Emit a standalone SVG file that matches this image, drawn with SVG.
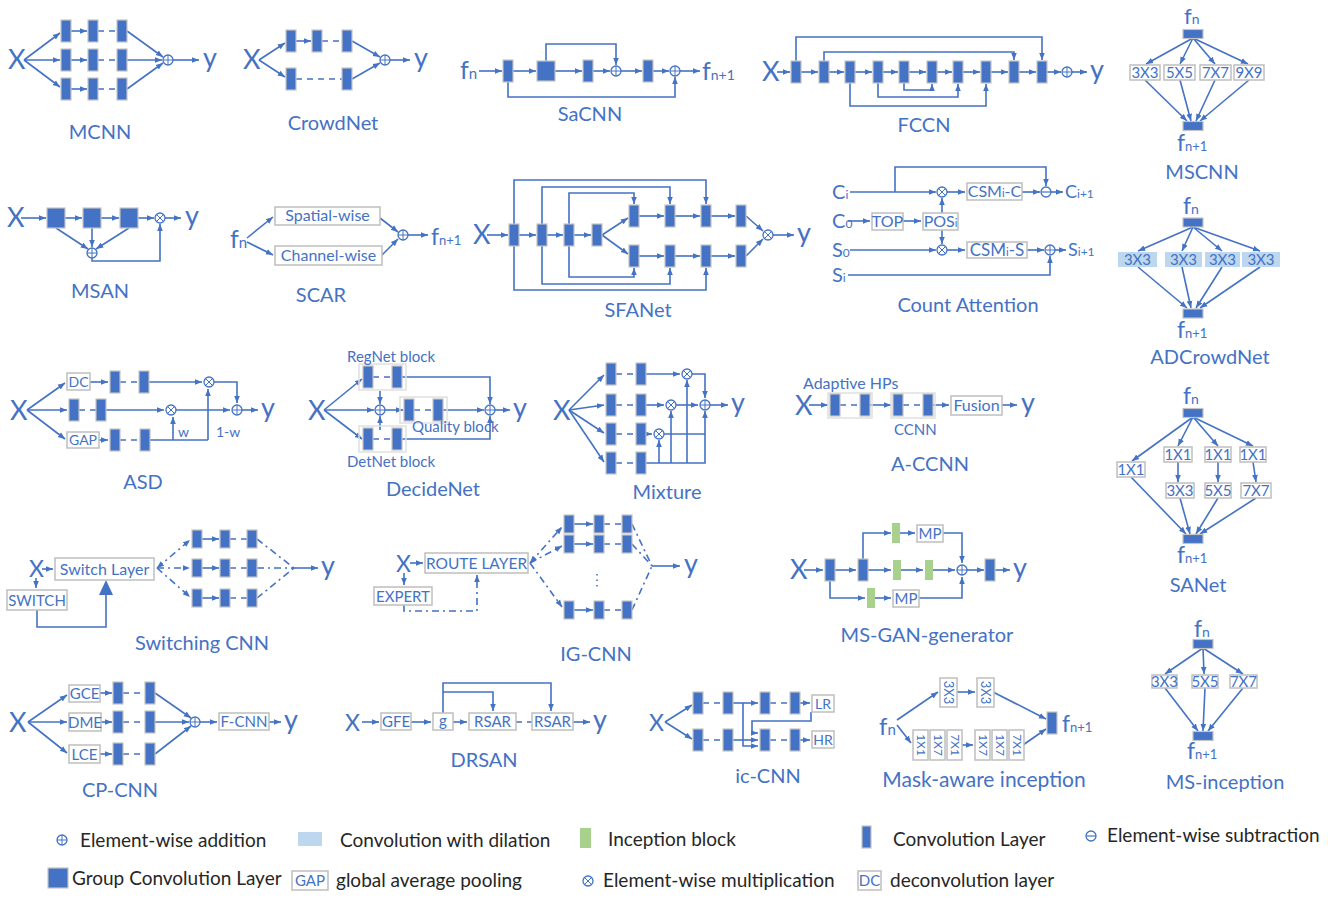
<svg xmlns="http://www.w3.org/2000/svg" width="1328" height="901" viewBox="0 0 1328 901">
<style>
.t{font-family:Lato,"Open Sans","Liberation Sans",sans-serif;fill:#4472C4}
.ttl{font-size:20px;text-anchor:middle}
.big{font-size:27px}
.md{font-size:23px}
.bt{font-size:15px;text-anchor:middle}
.st{font-size:14px}
.lg{font-family:Lato,"Open Sans","Liberation Sans",sans-serif;font-size:19px;fill:#262626}
.ln{fill:none;stroke:#4472C4;stroke-width:1.6}
.a{marker-end:url(#ah)}
.ab{marker-start:url(#ah)}
.ds{stroke-dasharray:6 5}
.dd{stroke-dasharray:7 4 2 4}
.bx{fill:#fff;stroke:#bfbfbf;stroke-width:1.5}
.fr{fill:none;stroke:#e0e0e0;stroke-width:1.5}
.lb{fill:#BDD7EE}
.gr{fill:#A9D18E}
.bl{fill:#4472C4}
</style>
<defs>
<marker id="ah" viewBox="0 0 10 10" refX="10" refY="5" markerWidth="4.5" markerHeight="4.5" orient="auto-start-reverse"><path d="M0,1L10,5L0,9z" fill="#4472C4"/></marker>
<rect id="cv" x="-5" y="-11" width="10" height="22" fill="#4472C4" stroke="#c4c4c4" stroke-width="1.2"/>
<rect id="cs" x="-5" y="-9" width="10" height="18" fill="#4472C4" stroke="#c4c4c4" stroke-width="1.2"/>
<rect id="gq" x="-9" y="-10" width="18" height="20" fill="#4472C4" stroke="#c4c4c4" stroke-width="1.2"/>
<rect id="bar" x="-10" y="-4.5" width="20" height="9" fill="#4472C4" stroke="#c4c4c4" stroke-width="1.2"/>
<rect id="gb" x="-4" y="-10" width="8" height="20" fill="#A9D18E"/>
<g id="add"><circle r="5" fill="#fff" stroke="#4472C4" stroke-width="1.3"/><path d="M-5,0H5M0,-5V5" stroke="#4472C4" stroke-width="1"/></g>
<g id="mul"><circle r="5" fill="#fff" stroke="#4472C4" stroke-width="1.3"/><path d="M-3.5,-3.5L3.5,3.5M-3.5,3.5L3.5,-3.5" stroke="#4472C4" stroke-width="1"/></g>
<g id="sub"><circle r="5" fill="#fff" stroke="#4472C4" stroke-width="1.3"/><path d="M-5,0H5" stroke="#4472C4" stroke-width="1.2"/></g>
</defs>
<rect width="1328" height="901" fill="#fff"/>

<!-- MCNN -->
<g id="mcnn">
<g id="mcnn-edges" class="ln">
<path class="a" d="M24,60L60,33"/><path class="a" d="M24,60H60"/><path class="a" d="M24,60L60,87"/>
<path class="a" d="M71,31H87"/><path class="a" d="M71,60H87"/><path class="a" d="M71,89H87"/>
<path class="ds" d="M98,31H117M98,60H117M98,89H117"/>
<path class="a" d="M127,31L163,57"/><path class="a" d="M127,60H162"/><path class="a" d="M127,89L163,63"/>
<path class="a" d="M173,60H199"/>
</g>
<g id="mcnn-nodes">
<use href="#cv" x="66" y="31"/><use href="#cv" x="93" y="31"/><use href="#cv" x="122" y="31"/>
<use href="#cv" x="66" y="60"/><use href="#cv" x="93" y="60"/><use href="#cv" x="122" y="60"/>
<use href="#cv" x="66" y="89"/><use href="#cv" x="93" y="89"/><use href="#cv" x="122" y="89"/>
<use href="#add" x="168" y="60"/>
<text class="t big" x="8" y="69">X</text><text class="t big" x="203" y="67">y</text>
<text class="t ttl" x="100" y="139">MCNN</text>
</g>
</g>

<!-- CrowdNet -->
<g id="crowdnet">
<g id="crowdnet-edges" class="ln">
<path class="a" d="M259,60L285,43"/><path class="a" d="M259,60L285,77"/>
<path class="a" d="M296,41H311"/><path class="ds" d="M322,41H342M296,79H342"/>
<path class="a" d="M352,41L380,57"/><path class="a" d="M352,79L380,63"/>
<path class="a" d="M390,60H410"/>
</g>
<g id="crowdnet-nodes">
<use href="#cv" x="291" y="41"/><use href="#cv" x="317" y="41"/><use href="#cv" x="347" y="41"/>
<use href="#cv" x="291" y="79"/><use href="#cv" x="347" y="79"/>
<use href="#add" x="385" y="60"/>
<text class="t big" x="243" y="69">X</text><text class="t big" x="414" y="67">y</text>
<text class="t ttl" x="333" y="130">CrowdNet</text>
</g>
</g>

<!-- SaCNN -->
<g id="sacnn">
<g id="sacnn-edges" class="ln">
<path class="a" d="M479,71H502"/><path class="a" d="M513,71H536"/><path class="a" d="M555,71H582"/>
<path class="a" d="M593,71H610"/><path class="a" d="M621,71H642"/><path class="a" d="M653,71H669"/>
<path class="a" d="M680,71H700"/>
<path class="a" d="M546,61V44H616V65"/><path class="a" d="M508,82V97H675V77"/>
</g>
<g id="sacnn-nodes">
<use href="#cv" x="508" y="71"/><use href="#gq" x="546" y="71"/><use href="#cv" x="588" y="71"/>
<use href="#add" x="616" y="71"/><use href="#cv" x="648" y="71"/><use href="#add" x="675" y="71"/>
<text class="t" x="460" y="79" font-size="25">f<tspan font-size="15">n</tspan></text>
<text class="t" x="702" y="80" font-size="25">f<tspan font-size="14">n+1</tspan></text>
<text class="t ttl" x="590" y="121">SaCNN</text>
</g>
</g>

<!-- FCCN -->
<g id="fccn">
<g id="fccn-edges" class="ln">
<path class="a" d="M777,72H790"/>
<path class="a" d="M801,72H818"/><path class="a" d="M829,72H844"/><path class="a" d="M855,72H872"/>
<path class="a" d="M883,72H898"/><path class="a" d="M909,72H926"/><path class="a" d="M937,72H952"/>
<path class="a" d="M963,72H980"/><path class="a" d="M991,72H1008"/><path class="a" d="M1019,72H1036"/>
<path class="a" d="M1047,72H1061"/><path class="a" d="M1072,72H1087"/>
<path class="a" d="M796,61V37H1042V60"/><path class="a" d="M824,61V52H1014V60"/>
<path class="a" d="M904,83V90H932V84"/><path class="a" d="M878,83V97H958V84"/><path class="a" d="M850,83V106H986V84"/>
</g>
<g id="fccn-nodes">
<use href="#cv" x="796" y="72"/><use href="#cv" x="824" y="72"/><use href="#cv" x="850" y="72"/>
<use href="#cv" x="878" y="72"/><use href="#cv" x="904" y="72"/><use href="#cv" x="932" y="72"/>
<use href="#cv" x="958" y="72"/><use href="#cv" x="986" y="72"/><use href="#cv" x="1014" y="72"/>
<use href="#cv" x="1042" y="72"/><use href="#add" x="1067" y="72"/>
<text class="t big" x="762" y="81">X</text><text class="t big" x="1090" y="79">y</text>
<text class="t ttl" x="924" y="132">FCCN</text>
</g>
</g>

<!-- MSCNN -->
<g id="mscnn">
<g id="mscnn-edges" class="ln">
<path class="a" d="M1193,38L1146,64"/><path class="a" d="M1193,38L1180,64"/><path class="a" d="M1193,38L1215,64"/><path class="a" d="M1193,38L1248,64"/>
<path class="a" d="M1145,80L1187,121"/><path class="a" d="M1180,80L1191,121"/><path class="a" d="M1215,80L1196,121"/><path class="a" d="M1249,80L1200,121"/>
</g>
<g id="mscnn-nodes">
<use href="#bar" x="1193" y="34"/><use href="#bar" x="1193" y="126"/>
<rect class="bx" x="1130" y="65" width="30" height="15"/><rect class="bx" x="1164" y="65" width="31" height="15"/>
<rect class="bx" x="1200" y="65" width="31" height="15"/><rect class="bx" x="1234" y="65" width="30" height="15"/>
<text class="t bt" x="1145" y="78">3X3</text><text class="t bt" x="1179.5" y="78">5X5</text>
<text class="t bt" x="1215.5" y="78">7X7</text><text class="t bt" x="1249" y="78">9X9</text>
<text class="t" x="1184" y="24" font-size="22">f<tspan font-size="14">n</tspan></text>
<text class="t" x="1177" y="151" font-size="23">f<tspan font-size="13">n+1</tspan></text>
<text class="t ttl" x="1202" y="179">MSCNN</text>
</g>
</g>

<!-- ADCrowdNet -->
<g id="adcrowdnet">
<g id="adcrowdnet-edges" class="ln">
<path class="a" d="M1193,227L1138,251"/><path class="a" d="M1193,227L1182,251"/><path class="a" d="M1193,227L1222,251"/><path class="a" d="M1193,227L1260,251"/>
<path class="a" d="M1138,267L1187,308"/><path class="a" d="M1182,267L1191,308"/><path class="a" d="M1222,267L1196,308"/><path class="a" d="M1260,267L1200,308"/>
</g>
<g id="adcrowdnet-nodes">
<use href="#bar" x="1193" y="222.5"/><use href="#bar" x="1193" y="313.5"/>
<rect class="lb" x="1118" y="252" width="39" height="15"/><rect class="lb" x="1165" y="252" width="37" height="15"/>
<rect class="lb" x="1205" y="252" width="35" height="15"/><rect class="lb" x="1242" y="252" width="38" height="15"/>
<text class="t bt" x="1137.5" y="265">3X3</text><text class="t bt" x="1183.5" y="265">3X3</text>
<text class="t bt" x="1222.5" y="265">3X3</text><text class="t bt" x="1261" y="265">3X3</text>
<text class="t" x="1183" y="214" font-size="23">f<tspan font-size="14">n</tspan></text>
<text class="t" x="1177" y="338" font-size="23">f<tspan font-size="13">n+1</tspan></text>
<text class="t ttl" x="1210" y="364">ADCrowdNet</text>
</g>
</g>

<!-- MSAN -->
<g id="msan">
<g id="msan-edges" class="ln">
<path class="a" d="M21,218H46"/><path class="a" d="M65,218H82"/><path class="a" d="M101,218H119"/><path class="a" d="M138,218H154"/>
<path class="a" d="M165,218H181"/>
<path class="a" d="M56,228L88,249"/><path class="a" d="M92,228V247"/><path class="a" d="M129,228L96,249"/>
<path class="a" d="M92,258V261H160V224"/>
</g>
<g id="msan-nodes">
<use href="#gq" x="56" y="218"/><use href="#gq" x="92" y="218"/><use href="#gq" x="129" y="218"/>
<use href="#mul" x="160" y="218"/><use href="#add" x="92" y="253"/>
<text class="t big" x="7" y="227">X</text><text class="t big" x="185" y="225">y</text>
<text class="t ttl" x="100" y="298">MSAN</text>
</g>
</g>

<!-- SCAR -->
<g id="scar">
<g id="scar-edges" class="ln">
<path class="a" d="M247,238L273,217"/><path class="a" d="M247,242L273,255"/>
<path class="a" d="M380,218L398,232"/><path class="a" d="M382,255L398,239"/>
<path class="a" d="M408,235H428"/>
</g>
<g id="scar-nodes">
<rect class="bx" x="275" y="207" width="105" height="18"/><rect class="bx" x="275" y="246" width="107" height="19"/>
<text class="t" x="327.5" y="221" font-size="16" text-anchor="middle">Spatial-wise</text>
<text class="t" x="328.5" y="261" font-size="16" text-anchor="middle">Channel-wise</text>
<use href="#add" x="403" y="235"/>
<text class="t" x="230" y="248" font-size="25">f<tspan font-size="15">n</tspan></text>
<text class="t" x="431" y="245" font-size="23">f<tspan font-size="13">n+1</tspan></text>
<text class="t ttl" x="321" y="302">SCAR</text>
</g>
</g>

<!-- SFANet -->
<g id="sfanet">
<g id="sfanet-edges" class="ln">
<path class="a" d="M487,235H508"/><path class="a" d="M519,235H536"/><path class="a" d="M547,235H563"/><path class="a" d="M574,235H591"/>
<path class="a" d="M602,235L628,218"/><path class="a" d="M602,235L628,254"/>
<path class="a" d="M639,216H664"/><path class="a" d="M675,216H700"/><path class="a" d="M711,216H735"/>
<path class="a" d="M639,256H664"/><path class="a" d="M675,256H700"/><path class="a" d="M711,256H735"/>
<path class="a" d="M746,216L763,231"/><path class="a" d="M746,256L763,239"/>
<path class="a" d="M773,235H794"/>
<path class="a" d="M569,224V193H634V204"/><path class="a" d="M542,224V187H670V204"/><path class="a" d="M514,224V180H706V204"/>
<path class="a" d="M569,246V277H634V268"/><path class="a" d="M542,246V284H670V268"/><path class="a" d="M514,246V290H706V268"/>
</g>
<g id="sfanet-nodes">
<use href="#cv" x="514" y="235"/><use href="#cv" x="542" y="235"/><use href="#cv" x="569" y="235"/><use href="#cv" x="597" y="235"/>
<use href="#cv" x="634" y="216"/><use href="#cv" x="670" y="216"/><use href="#cv" x="706" y="216"/><use href="#cv" x="741" y="216"/>
<use href="#cv" x="634" y="256"/><use href="#cv" x="670" y="256"/><use href="#cv" x="706" y="256"/><use href="#cv" x="741" y="256"/>
<use href="#mul" x="768" y="235"/>
<text class="t big" x="473" y="244">X</text><text class="t big" x="797" y="242">y</text>
<text class="t ttl" x="638" y="317">SFANet</text>
</g>
</g>

<!-- Count Attention -->
<g id="count-attention">
<g id="count-attention-edges" class="ln">
<path class="a" d="M850,192H936"/><path class="a" d="M895,192V167H1046V186"/>
<path class="a" d="M947,192H965"/><path class="a" d="M1022,192H1040"/><path class="a" d="M1051,192H1063"/>
<path class="a" d="M848,221H870"/><path class="a" d="M903,221H921"/>
<path class="a" d="M942,213V198"/><path class="a" d="M942,230V244"/>
<path class="a" d="M850,250H936"/><path class="a" d="M947,250H965"/><path class="a" d="M1027,250H1044"/><path class="a" d="M1055,250H1066"/>
<path class="a" d="M848,275H1050V256"/>
</g>
<g id="count-attention-nodes">
<use href="#mul" x="942" y="192"/><use href="#sub" x="1046" y="192"/>
<use href="#mul" x="942" y="250"/><use href="#add" x="1050" y="250"/>
<rect class="bx" x="967" y="183" width="55" height="17"/>
<rect class="bx" x="872" y="213" width="31" height="17"/>
<rect class="bx" x="923" y="213" width="35" height="17"/>
<rect class="bx" x="967" y="242" width="60" height="16"/>
<text class="t" x="994.5" y="197" font-size="16" text-anchor="middle">CSM<tspan font-size="11">i</tspan>-C</text>
<text class="t" x="887.5" y="227" font-size="16" text-anchor="middle">TOP</text>
<text class="t" x="940.5" y="227" font-size="16" text-anchor="middle">POS<tspan font-size="11">i</tspan></text>
<text class="t" x="997" y="256" font-size="17" text-anchor="middle">CSM<tspan font-size="11">i</tspan>-S</text>
<text class="t" x="832" y="199" font-size="20">C<tspan font-size="12">i</tspan></text>
<text class="t" x="1065" y="198" font-size="18">C<tspan font-size="12">i+1</tspan></text>
<text class="t" x="832" y="228" font-size="20">C<tspan font-size="12">0</tspan></text>
<text class="t" x="832" y="257" font-size="20">S<tspan font-size="12">0</tspan></text>
<text class="t" x="1068" y="256" font-size="18">S<tspan font-size="12">i+1</tspan></text>
<text class="t" x="832" y="282" font-size="20">S<tspan font-size="12">i</tspan></text>
<text class="t ttl" x="968" y="312">Count Attention</text>
</g>
</g>

<!-- ASD -->
<g id="asd">
<g id="asd-edges" class="ln">
<path class="a" d="M27,410L65,383"/><path class="a" d="M27,410H67"/><path class="a" d="M27,410L65,439"/>
<path class="a" d="M90,382H108"/><path class="ds" d="M120,382H139M79,410H96M120,440H140"/>
<path class="a" d="M149,382H202"/><path class="a" d="M214,382H237V403"/>
<path class="a" d="M106,410H164"/><path class="a" d="M176,410H230"/>
<path class="a" d="M99,440H108"/><path d="M150,440H208"/>
<path class="a" d="M173,440V417"/><path class="a" d="M208,440V389"/>
<path class="a" d="M242,410H258"/>
</g>
<g id="asd-nodes">
<rect class="bx" x="67" y="373" width="23" height="17"/><rect class="bx" x="67" y="432" width="32" height="16"/>
<text class="t st" x="78.5" y="386.5" text-anchor="middle">DC</text><text class="t st" x="83" y="445" text-anchor="middle">GAP</text>
<use href="#cv" x="115" y="382"/><use href="#cv" x="144" y="382"/>
<use href="#cv" x="74" y="410"/><use href="#cv" x="101" y="410"/>
<use href="#cv" x="115" y="440"/><use href="#cv" x="145" y="440"/>
<use href="#mul" x="209" y="382"/><use href="#mul" x="171" y="410"/><use href="#add" x="237" y="410"/>
<text class="t st" x="178" y="437">w</text><text class="t st" x="216" y="437">1-w</text>
<text class="t big" x="10" y="420">X</text><text class="t big" x="261" y="417">y</text>
<text class="t ttl" x="143" y="489">ASD</text>
</g>
</g>

<!-- DecideNet -->
<g id="decidenet">
<g id="decidenet-edges" class="ln">
<path class="a" d="M324,410L362,379"/><path class="a" d="M324,410H374"/><path class="a" d="M324,410L362,439"/>
<path class="ds" d="M373,377H392M414,410H433M373,439H392"/>
<path class="a" d="M402,377H490V404"/><path class="a" d="M380,391V404"/><path class="a" d="M380,430V416"/>
<path class="a" d="M385,410H403"/><path class="a" d="M443,410H484"/><path class="a" d="M495,410H510"/>
<path class="a" d="M402,439H490V416"/>
</g>
<g id="decidenet-nodes">
<rect class="fr" x="359" y="364" width="47" height="26"/><rect class="fr" x="400" y="397" width="47" height="26"/><rect class="fr" x="359" y="426" width="47" height="26"/>
<use href="#cv" x="368" y="377"/><use href="#cv" x="397" y="377"/>
<use href="#cv" x="409" y="410"/><use href="#cv" x="438" y="410"/>
<use href="#cv" x="368" y="439"/><use href="#cv" x="397" y="439"/>
<use href="#add" x="380" y="410"/><use href="#add" x="490" y="410"/>
<text class="t" x="347" y="362" font-size="15">RegNet block</text>
<text class="t" x="412" y="432" font-size="15">Quality block</text>
<text class="t" x="347" y="467" font-size="15">DetNet block</text>
<text class="t big" x="308" y="420">X</text><text class="t big" x="513" y="417">y</text>
<text class="t ttl" x="433" y="496">DecideNet</text>
</g>
</g>

<!-- Mixture -->
<g id="mixture">
<g id="mixture-edges" class="ln">
<path class="a" d="M569,410L604,375"/><path class="a" d="M569,410L604,405"/><path class="a" d="M569,410L604,433"/><path class="a" d="M569,410L604,462"/>
<path class="ds" d="M616,374H636M616,405H636M616,434H636M616,463H636"/>
<path class="a" d="M646,374H680"/><path class="a" d="M692,374H705V398"/>
<path class="a" d="M646,405H664"/><path class="a" d="M676,405H698"/><path class="a" d="M710,405H728"/>
<path class="a" d="M646,434H652"/><path d="M664,434H705"/>
<path class="a" d="M646,463H705V411"/>
<path class="a" d="M659,463V440"/><path class="a" d="M671,463V411"/><path class="a" d="M687,463V380"/>
</g>
<g id="mixture-nodes">
<use href="#cv" x="611" y="374"/><use href="#cv" x="641" y="374"/>
<use href="#cv" x="611" y="405"/><use href="#cv" x="641" y="405"/>
<use href="#cv" x="611" y="434"/><use href="#cv" x="641" y="434"/>
<use href="#cv" x="611" y="463"/><use href="#cv" x="641" y="463"/>
<use href="#mul" x="687" y="374"/><use href="#mul" x="671" y="405"/><use href="#mul" x="659" y="434"/><use href="#add" x="705" y="405"/>
<text class="t big" x="553" y="420">X</text><text class="t big" x="731" y="412">y</text>
<text class="t ttl" x="667" y="499">Mixture</text>
</g>
</g>

<!-- A-CCNN -->
<g id="accnn">
<g id="accnn-edges" class="ln">
<path class="a" d="M809,405H828"/><path class="ds" d="M840,405H860M903,405H923"/>
<path class="a" d="M870,405H891"/><path class="a" d="M933,405H949"/><path class="a" d="M1002,405H1017"/>
</g>
<g id="accnn-nodes">
<rect class="fr" x="828" y="393" width="44" height="25"/><rect class="fr" x="891" y="393" width="44" height="25"/>
<use href="#cv" x="835" y="405"/><use href="#cv" x="865" y="405"/><use href="#cv" x="898" y="405"/><use href="#cv" x="928" y="405"/>
<rect class="bx" x="951" y="396" width="51" height="19"/>
<text class="t" x="976.5" y="411" font-size="16" text-anchor="middle">Fusion</text>
<text class="t" x="803" y="389" font-size="16">Adaptive HPs</text>
<text class="t" x="894" y="435" font-size="15">CCNN</text>
<text class="t big" x="795" y="415">X</text><text class="t big" x="1021" y="412">y</text>
<text class="t ttl" x="930" y="471">A-CCNN</text>
</g>
</g>

<!-- SANet -->
<g id="sanet">
<g id="sanet-edges" class="ln">
<path class="a" d="M1193,417L1132,461"/><path class="a" d="M1193,417L1178,446"/><path class="a" d="M1193,417L1218,446"/><path class="a" d="M1193,417L1253,446"/>
<path class="a" d="M1178,462V482"/><path class="a" d="M1218,462V482"/><path class="a" d="M1253,462L1256,482"/>
<path class="a" d="M1131,477L1186,534"/><path class="a" d="M1180,498L1190,534"/><path class="a" d="M1218,498L1196,534"/><path class="a" d="M1256,498L1200,534"/>
</g>
<g id="sanet-nodes">
<use href="#bar" x="1193" y="413"/><use href="#bar" x="1193" y="539"/>
<rect class="bx" x="1117" y="462" width="28" height="15"/><rect class="bx" x="1164" y="447" width="28" height="15"/>
<rect class="bx" x="1205" y="447" width="26" height="15"/><rect class="bx" x="1240" y="447" width="26" height="15"/>
<rect class="bx" x="1166" y="483" width="28" height="15"/><rect class="bx" x="1205" y="483" width="26" height="15"/>
<rect class="bx" x="1241" y="483" width="30" height="15"/>
<text class="t bt" x="1131" y="475">1X1</text><text class="t bt" x="1178" y="460">1X1</text>
<text class="t bt" x="1218" y="460">1X1</text><text class="t bt" x="1253" y="460">1X1</text>
<text class="t bt" x="1180" y="496">3X3</text><text class="t bt" x="1218" y="496">5X5</text><text class="t bt" x="1256" y="496">7X7</text>
<text class="t" x="1183" y="404" font-size="23">f<tspan font-size="14">n</tspan></text>
<text class="t" x="1177" y="563" font-size="23">f<tspan font-size="13">n+1</tspan></text>
<text class="t ttl" x="1198" y="592">SANet</text>
</g>
</g>

<!-- Switching CNN -->
<g id="switching-cnn">
<g id="switching-cnn-edges" class="ln">
<path class="a" d="M42,569H53"/><path class="a" d="M36,578V588"/>
<path d="M37,610V627H106V594"/>
<path class="dd a ab" d="M157,568L190,540"/><path class="dd a" d="M157,568H190"/><path class="dd a" d="M157,568L190,597"/>
<path class="a" d="M202,539H219"/><path class="a" d="M202,568H219"/><path class="a" d="M202,598H219"/>
<path class="ds" d="M230,539H247M230,568H247M230,598H247"/>
<path class="dd" d="M257,539L294,568M257,568H294M257,598L294,568"/>
<path class="a" d="M294,568H318"/>
</g>
<g id="switching-cnn-nodes">
<polygon class="bl" points="99,595 113,595 106,580"/>
<rect class="bx" x="55" y="558" width="99" height="22"/>
<text class="t" x="104.5" y="574.5" font-size="16" text-anchor="middle">Switch Layer</text>
<rect class="bx" x="7" y="590" width="60" height="20"/>
<text class="t" x="37" y="605.5" font-size="15" text-anchor="middle">SWITCH</text>
<use href="#cs" x="197" y="539"/><use href="#cs" x="225" y="539"/><use href="#cs" x="252" y="539"/>
<use href="#cs" x="197" y="568"/><use href="#cs" x="225" y="568"/><use href="#cs" x="252" y="568"/>
<use href="#cs" x="197" y="598"/><use href="#cs" x="225" y="598"/><use href="#cs" x="252" y="598"/>
<text class="t md" x="29" y="577">X</text><text class="t big" x="321" y="575">y</text>
<text class="t ttl" x="202" y="650">Switching CNN</text>
</g>
</g>

<!-- IG-CNN -->
<g id="ig-cnn">
<g id="ig-cnn-edges" class="ln">
<path class="a" d="M410,563H423"/><path class="a" d="M404,573V585"/>
<path class="dd a" d="M404,605V611H477V575"/>
<path class="dd a ab" d="M530,563L562,527"/><path class="dd a" d="M530,563L562,546"/><path class="dd a" d="M530,563L562,607"/>
<path class="a" d="M574,524H593"/><path class="a" d="M574,544H593"/><path class="a" d="M574,610H593"/>
<path class="ds" d="M604,524H622M604,544H622M604,610H622"/>
<path class="dd" d="M632,524L652,566M632,544L652,566M632,610L652,566"/>
<path stroke-dasharray="1.5 4" d="M597,574V590"/>
<path class="a" d="M652,566H680"/>
</g>
<g id="ig-cnn-nodes">
<rect class="bx" x="425" y="553" width="103" height="20"/>
<text class="t" x="476.5" y="568.5" font-size="15.5" text-anchor="middle">ROUTE LAYER</text>
<rect class="bx" x="374" y="587" width="58" height="18"/>
<text class="t" x="403" y="601.5" font-size="15" text-anchor="middle">EXPERT</text>
<use href="#cs" x="569" y="524"/><use href="#cs" x="599" y="524"/><use href="#cs" x="627" y="524"/>
<use href="#cs" x="569" y="544"/><use href="#cs" x="599" y="544"/><use href="#cs" x="627" y="544"/>
<use href="#cs" x="569" y="610"/><use href="#cs" x="599" y="610"/><use href="#cs" x="627" y="610"/>
<text class="t md" x="396" y="572">X</text><text class="t big" x="684" y="573">y</text>
<text class="t ttl" x="596" y="661">IG-CNN</text>
</g>
</g>

<!-- MS-GAN-generator -->
<g id="ms-gan">
<g id="ms-gan-edges" class="ln">
<path class="a" d="M804,570H823"/><path class="a" d="M835,570H856"/><path class="a" d="M868,570H891"/>
<path class="a" d="M901,570H923"/><path class="a" d="M933,570H955"/><path class="a" d="M967,570H984"/><path class="a" d="M995,570H1010"/>
<path class="a" d="M863,559V533H891"/><path class="a" d="M900,533H915"/><path class="a" d="M943,533H962V563"/>
<path class="a" d="M830,581V598H865"/><path class="a" d="M875,598H891"/><path class="a" d="M919,598H962V577"/>
</g>
<g id="ms-gan-nodes">
<use href="#cv" x="830" y="570"/><use href="#cv" x="863" y="570"/><use href="#cv" x="990" y="570"/>
<use href="#gb" x="897" y="570"/><use href="#gb" x="929" y="570"/><use href="#gb" x="896" y="533"/><use href="#gb" x="871" y="598"/>
<use href="#add" x="962" y="570"/>
<rect class="bx" x="917" y="525" width="26" height="17"/><rect class="bx" x="893" y="590" width="26" height="17"/>
<text class="t" x="930" y="539" font-size="15" text-anchor="middle">MP</text>
<text class="t" x="906" y="604" font-size="15" text-anchor="middle">MP</text>
<text class="t big" x="790" y="579">X</text><text class="t big" x="1013" y="577">y</text>
<text class="t ttl" x="927" y="642">MS-GAN-generator</text>
</g>
</g>

<!-- CP-CNN -->
<g id="cp-cnn">
<g id="cp-cnn-edges" class="ln">
<path class="a" d="M28,722L67,695"/><path class="a" d="M28,722H67"/><path class="a" d="M28,722L67,753"/>
<path class="a" d="M100,693H112"/><path class="a" d="M101,722H112"/><path class="a" d="M100,754H112"/>
<path class="ds" d="M123,693H145M123,722H145M123,754H145"/>
<path class="a" d="M155,693L191,718"/><path class="a" d="M155,722H189"/><path class="a" d="M155,754L191,726"/>
<path class="a" d="M200,722H217"/><path class="a" d="M269,722H281"/>
</g>
<g id="cp-cnn-nodes">
<rect class="bx" x="69" y="685" width="31" height="17"/><rect class="bx" x="69" y="713" width="32" height="18"/><rect class="bx" x="69" y="745" width="31" height="18"/>
<text class="t" x="84.5" y="699" font-size="15" text-anchor="middle">GCE</text>
<text class="t" x="85" y="727.5" font-size="15" text-anchor="middle">DME</text>
<text class="t" x="84.5" y="759.5" font-size="15" text-anchor="middle">LCE</text>
<use href="#cv" x="118" y="693"/><use href="#cv" x="150" y="693"/>
<use href="#cv" x="118" y="722"/><use href="#cv" x="150" y="722"/>
<use href="#cv" x="118" y="754"/><use href="#cv" x="150" y="754"/>
<use href="#add" x="195" y="722"/>
<rect class="bx" x="219" y="713" width="50" height="17"/>
<text class="t" x="244" y="727" font-size="15" text-anchor="middle">F-CNN</text>
<text class="t big" x="9" y="732">X</text><text class="t big" x="284" y="729">y</text>
<text class="t ttl" x="120" y="797">CP-CNN</text>
</g>
</g>

<!-- DRSAN -->
<g id="drsan">
<g id="drsan-edges" class="ln">
<path class="a" d="M362,722H379"/><path class="a" d="M411,722H431"/><path class="a" d="M453,722H467"/>
<path class="ds" d="M516,722H532"/><path class="a" d="M573,722H590"/>
<path class="a" d="M443,713V683H551V711"/><path class="a" d="M443,692H493V711"/>
</g>
<g id="drsan-nodes">
<rect class="bx" x="381" y="713" width="30" height="17"/><rect class="bx" x="433" y="713" width="20" height="17"/>
<rect class="bx" x="469" y="713" width="47" height="17"/><rect class="bx" x="532" y="713" width="41" height="17"/>
<text class="t" x="396" y="727" font-size="15" text-anchor="middle">GFE</text>
<text class="t" x="443" y="726" font-size="15" text-anchor="middle">g</text>
<text class="t" x="492.5" y="727" font-size="15" text-anchor="middle">RSAR</text>
<text class="t" x="552.5" y="727" font-size="15" text-anchor="middle">RSAR</text>
<text class="t md" x="345" y="731">X</text><text class="t big" x="593" y="729">y</text>
<text class="t ttl" x="484" y="767">DRSAN</text>
</g>
</g>

<!-- ic-CNN -->
<g id="ic-cnn">
<g id="ic-cnn-edges" class="ln">
<path class="a" d="M665,722L692,705"/><path class="a" d="M665,722L692,739"/>
<path class="ds" d="M703,703H723M770,703H790M703,740H723M770,740H790"/>
<path class="a" d="M733,703H758"/><path class="a" d="M800,703H810"/>
<path class="a" d="M733,740H758"/><path class="a" d="M800,740H810"/>
<path class="a" d="M743,703V746H758"/><path class="a" d="M811,712V721H752V733H758"/>
</g>
<g id="ic-cnn-nodes">
<use href="#cv" x="698" y="703"/><use href="#cv" x="728" y="703"/><use href="#cv" x="765" y="703"/><use href="#cv" x="795" y="703"/>
<use href="#cv" x="698" y="740"/><use href="#cv" x="728" y="740"/><use href="#cv" x="765" y="740"/><use href="#cv" x="795" y="740"/>
<rect class="bx" x="812" y="695" width="22" height="17"/><rect class="bx" x="812" y="731" width="22" height="17"/>
<text class="t" x="823" y="709" font-size="14" text-anchor="middle">LR</text>
<text class="t" x="823" y="745" font-size="14" text-anchor="middle">HR</text>
<text class="t md" x="649" y="731">X</text>
<text class="t ttl" x="768" y="783">ic-CNN</text>
</g>
</g>

<!-- Mask-aware inception -->
<g id="mask-aware-inception">
<g id="mask-aware-inception-edges" class="ln">
<path class="a" d="M897,720L938,692"/><path class="a" d="M957,692H975"/><path class="a" d="M993,692L1046,719"/>
<path class="a" d="M897,725L911,743"/><path class="a" d="M962,745H973"/><path class="a" d="M1023,745L1046,729"/>
</g>
<g id="mask-aware-inception-nodes">
<rect class="bx" x="940" y="678" width="17" height="29"/><rect class="bx" x="977" y="678" width="17" height="29"/>
<text class="t" font-size="13" text-anchor="middle" transform="translate(948.5,692.5) rotate(90)" dy="4.5">3X3</text>
<text class="t" font-size="13" text-anchor="middle" transform="translate(985.5,692.5) rotate(90)" dy="4.5">3X3</text>
<rect class="bx" x="913" y="730" width="15" height="30"/><rect class="bx" x="930" y="730" width="15" height="30"/><rect class="bx" x="947" y="730" width="15" height="30"/>
<rect class="bx" x="975" y="730" width="15" height="30"/><rect class="bx" x="992" y="730" width="15" height="30"/><rect class="bx" x="1009" y="730" width="15" height="30"/>
<text class="t" font-size="12" text-anchor="middle" transform="translate(920.5,745) rotate(90)" dy="4">1X1</text>
<text class="t" font-size="12" text-anchor="middle" transform="translate(937.5,745) rotate(90)" dy="4">1X7</text>
<text class="t" font-size="12" text-anchor="middle" transform="translate(954.5,745) rotate(90)" dy="4">7X1</text>
<text class="t" font-size="12" text-anchor="middle" transform="translate(982.5,745) rotate(90)" dy="4">1X7</text>
<text class="t" font-size="12" text-anchor="middle" transform="translate(999.5,745) rotate(90)" dy="4">1X7</text>
<text class="t" font-size="12" text-anchor="middle" transform="translate(1016.5,745) rotate(90)" dy="4">7X1</text>
<use href="#cv" x="1052" y="723"/>
<text class="t" x="879" y="735" font-size="24">f<tspan font-size="15">n</tspan></text>
<text class="t" x="1062" y="732" font-size="23">f<tspan font-size="13">n+1</tspan></text>
<text class="t" x="984" y="787" font-size="21" text-anchor="middle">Mask-aware inception</text>
</g>
</g>

<!-- MS-inception -->
<g id="ms-inception">
<g id="ms-inception-edges" class="ln">
<path class="a" d="M1203,648L1165,674"/><path class="a" d="M1203,648L1204,674"/><path class="a" d="M1203,648L1243,674"/>
<path class="a" d="M1165,688L1198,731"/><path class="a" d="M1205,688L1203,731"/><path class="a" d="M1243,688L1208,731"/>
</g>
<g id="ms-inception-nodes">
<use href="#bar" x="1203" y="644"/><use href="#bar" x="1203" y="736"/>
<rect class="bx" x="1152" y="675" width="25" height="13"/><rect class="bx" x="1192" y="675" width="26" height="13"/><rect class="bx" x="1230" y="675" width="27" height="13"/>
<text class="t bt" x="1164.5" y="687">3X3</text><text class="t bt" x="1205" y="687">5X5</text><text class="t bt" x="1243.5" y="687">7X7</text>
<text class="t" x="1194" y="637" font-size="23">f<tspan font-size="14">n</tspan></text>
<text class="t" x="1187" y="759" font-size="23">f<tspan font-size="13">n+1</tspan></text>
<text class="t ttl" x="1225" y="789">MS-inception</text>
</g>
</g>

<!-- Legend -->
<g id="legend">
<use href="#add" x="62" y="840"/><text class="lg" x="80" y="847">Element-wise addition</text>
<rect class="lb" x="298" y="832" width="24" height="14"/><text class="lg" x="340" y="847">Convolution with dilation</text>
<rect class="gr" x="580" y="828" width="11" height="20"/><text class="lg" x="608" y="846">Inception block</text>
<rect x="862" y="826" width="9" height="22" fill="#4472C4" stroke="#c4c4c4" stroke-width="1.2"/><text class="lg" x="893" y="846">Convolution Layer</text>
<use href="#sub" x="1091" y="836"/><text class="lg" x="1107" y="842">Element-wise subtraction</text>
<rect x="48" y="868" width="20" height="20" fill="#4472C4" stroke="#c4c4c4" stroke-width="1.2"/><text class="lg" x="72" y="885">Group Convolution Layer</text>
<rect class="bx" x="292" y="871" width="36" height="19"/><text class="t" x="310" y="886" font-size="15" text-anchor="middle">GAP</text>
<text class="lg" x="336" y="887">global average pooling</text>
<use href="#mul" x="588" y="881"/><text class="lg" x="603" y="887">Element-wise multiplication</text>
<rect class="bx" x="858" y="871" width="23" height="19"/><text class="t" x="869.5" y="886" font-size="15" text-anchor="middle">DC</text>
<text class="lg" x="890" y="887">deconvolution layer</text>
</g>
</svg>
